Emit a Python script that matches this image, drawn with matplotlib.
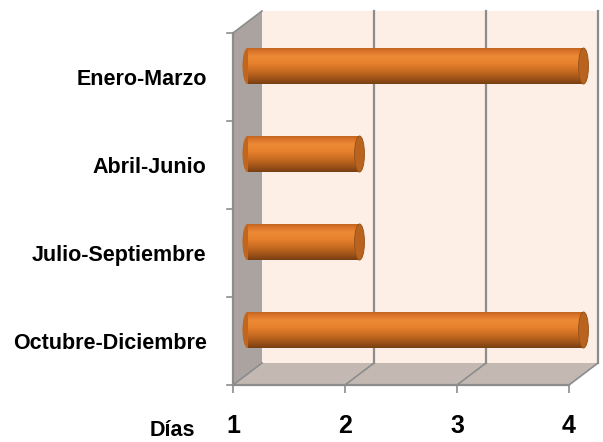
import matplotlib.pyplot as plt
import numpy as np
from matplotlib import font_manager
from matplotlib.patches import Polygon, Ellipse, Rectangle
from matplotlib.colors import LinearSegmentedColormap

categorias = ['Octubre-Diciembre', 'Julio-Septiembre', 'Abril-Junio', 'Enero-Marzo']
dias = [4, 2, 2, 4]
ticks_x = [1, 2, 3, 4]

# fuente estrecha si existe
nombres = {f.name for f in font_manager.fontManager.ttflist}
if 'Liberation Sans Narrow' in nombres:
    fuente, tam = ['Liberation Sans Narrow', 'DejaVu Sans'], 18.5
else:
    fuente, tam = ['Liberation Sans', 'DejaVu Sans'], 15.5

fig = plt.figure(figsize=(6.03, 4.42), dpi=100)
W, H = 603, 442
x0, x1 = 233, 569
y0, y1 = 385, 33
ax = fig.add_axes([x0 / W, 1 - y0 / H, (x1 - x0) / W, (y0 - y1) / H])
ax.set_xlim(1, 4)
ax.set_ylim(0, 4)
for s in ax.spines.values():
    s.set_visible(False)

# profundidad (en unidades de datos)
dx = 29 / ((x1 - x0) / 3)
dy = 22 / ((y0 - y1) / 4)
gris = '#8c8c8c'

# pared de fondo
ax.add_patch(Polygon([(1 + dx, dy), (4 + dx, dy), (4 + dx, 4 + dy), (1 + dx, 4 + dy)],
                     closed=True, fc='#fdeee6', ec='none', clip_on=False, zorder=0))
# suelo
ax.add_patch(Polygon([(1, 0), (4, 0), (4 + dx, dy), (1 + dx, dy)],
                     closed=True, fc='#c3b8b2', ec='none', clip_on=False, zorder=1))
# pared izquierda
ax.add_patch(Polygon([(1, 0), (1 + dx, dy), (1 + dx, 4 + dy), (1, 4)],
                     closed=True, fc='#aaa39f', ec='none', clip_on=False, zorder=1))

# cuadricula
for t in ticks_x[1:]:
    ax.plot([t + dx, t + dx], [dy, 4 + dy], color=gris, lw=1.6, clip_on=False, zorder=2)
    ax.plot([t, t + dx], [0, dy], color=gris, lw=1.2, clip_on=False, zorder=2)
ax.plot([1, 1 + dx], [0, dy], color=gris, lw=1.2, clip_on=False, zorder=2)
ax.plot([1, 1 + dx], [4, 4 + dy], color=gris, lw=1.2, clip_on=False, zorder=2)
ax.plot([1, 4], [0, 0], color=gris, lw=1.6, clip_on=False, zorder=2)
ax.plot([1, 1], [0, 4], color=gris, lw=1.6, clip_on=False, zorder=2)

# barras cilindricas
alto = 0.41
cap_w = 10 / ((x1 - x0) / 3)
cmap = LinearSegmentedColormap.from_list('cil', [
    (0.0, '#7a3f12'), (0.25, '#b5601c'), (0.55, '#e8802c'), (0.75, '#ec8a35'), (0.9, '#d9722a'), (1.0, '#b8611d')])
g = np.linspace(0, 1, 100).reshape(-1, 1)
for i, v in enumerate(dias):
    yc = i + 0.5 + dy / 2
    xl = 1 + dx / 2
    xr = v + dx / 2
    clip = Rectangle((xl, yc - alto / 2), xr - xl, alto, transform=ax.transData)
    im = ax.imshow(g, extent=(xl, xr, yc - alto / 2, yc + alto / 2), origin='lower',
                   cmap=cmap, aspect='auto', zorder=4, clip_on=True)
    im.set_clip_path(clip)
    ax.add_patch(Ellipse((xl, yc), cap_w, alto, fc='#c0661f', ec='none', zorder=3, clip_on=False))
    ax.add_patch(Ellipse((xr, yc), cap_w, alto, fc='#b8631e', ec='#9a5018', lw=0.6, zorder=5, clip_on=False))

ax.set_xlim(1, 4)
ax.set_ylim(0, 4)
ax.set_xticks(ticks_x)
ax.set_xticklabels([str(t) for t in ticks_x], fontsize=tam + 2.5, fontweight='bold', family=fuente)
ax.tick_params(axis='x', length=6, color=gris, width=1.2, pad=15)
ax.set_yticks([0.5, 1.5, 2.5, 3.5])
ax.set_yticklabels(categorias, fontsize=tam, fontweight='bold', family=fuente)
ax.tick_params(axis='y', length=0, pad=19)
for t in range(5):
    ax.plot([1 - 0.05, 1], [t, t], color=gris, lw=1.2, clip_on=False, zorder=2)
fig.text(150 / W, 1 - 431 / H, 'Días', fontsize=tam, fontweight='bold', family=fuente, va='center')

fig.savefig('out.png', dpi=100)
